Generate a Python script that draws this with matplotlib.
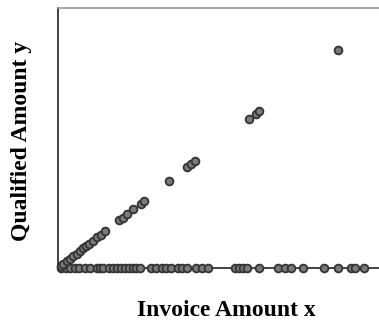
import matplotlib.pyplot as plt

# invoices whose qualified amount equals the invoice amount
matched_invoice = [8, 17, 27, 37, 48, 58, 69, 79, 88, 98, 110, 123, 133, 147,
                   191, 202, 217, 235, 258, 268, 347, 403, 417, 429, 598, 618,
                   629, 874]
matched_qualified = list(matched_invoice)

# invoices with nothing qualified
zero_invoice = [9, 25, 37, 53, 66, 84, 100, 122, 131, 141, 159, 172, 184, 197,
                209, 222, 234, 244, 256, 291, 306, 325, 337, 353, 375, 387,
                403, 431, 450, 469, 553, 566, 578, 591, 628, 688, 709, 728,
                766, 831, 875, 916, 928, 956]
zero_qualified = [0] * len(zero_invoice)


def main():
    plt.rcParams["font.family"] = ["Liberation Serif", "DejaVu Serif"]

    fig = plt.figure(figsize=(3.79, 3.22), dpi=100)
    ax = fig.add_axes([58 / 379, 54 / 322, 336 / 379, 260 / 322])

    style = dict(ls="none", marker="o", ms=5.6, mfc="#7a7a7a", mec="#333333",
                 mew=1.3, clip_on=False, zorder=3)
    ax.plot(zero_invoice, zero_qualified, **style)
    ax.plot(matched_invoice, matched_qualified, **style)

    ax.set_xlim(0, 1050)
    ax.set_ylim(0, 1042)
    ax.set_xticks([])
    ax.set_yticks([])
    ax.spines["right"].set_visible(False)
    ax.spines["left"].set_color("#222222")
    ax.spines["bottom"].set_color("#222222")
    ax.spines["top"].set_color("#999999")
    for s in ax.spines.values():
        s.set_linewidth(1.2)

    fig.text(226 / 379, 1 - 310 / 322, "Invoice Amount x", ha="center",
             va="center", fontsize=17, fontweight="bold")
    fig.text(22 / 379, 1 - 141 / 322, "Qualified Amount y", ha="center",
             va="center", rotation=90, fontsize=17, fontweight="bold")

    fig.savefig("out.png", dpi=100)


if __name__ == "__main__":
    main()
